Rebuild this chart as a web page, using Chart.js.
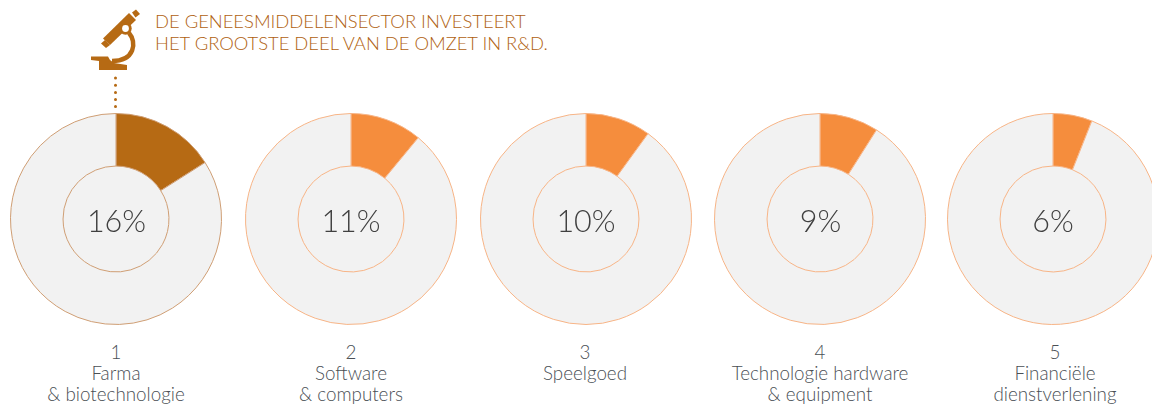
<!DOCTYPE html>
<html lang="nl">

<head>
    <meta charset="UTF-8">
    <title>R&amp;D per sector</title>
    <script src="https://cdn.jsdelivr.net/npm/chart.js"></script>
    <style>
        html, body {
            margin: 0;
            width: 1152px;
            height: 405px;
            overflow: hidden;
            background: #fff;
            font-family: Lato, "Open Sans", sans-serif;
        }

        .title {
            position: absolute;
            left: 155px;
            top: 10px;
            font-size: 18.4px;
            line-height: 22px;
            font-weight: 300;
            color: #b05f10;
            white-space: nowrap;
        }

        .donut {
            position: absolute;
            top: 104px;
            width: 230px;
            height: 230px;
        }

        .pct {
            position: absolute;
            top: 201px;
            width: 120px;
            text-align: center;
            font-size: 30.5px;
            line-height: 38px;
            font-weight: 300;
            color: #404040;
        }

        .label {
            position: absolute;
            top: 341px;
            width: 230px;
            text-align: center;
            font-size: 18.8px;
            line-height: 21px;
            font-weight: 300;
            color: #4a4f55;
        }

        svg {
            position: absolute;
            left: 0;
            top: 0;
        }
    </style>
</head>

<body>
    <svg width="160" height="110" fill="#b66a14">
        <polygon points="103,38.5 129,13 136,20 110,45" />
        <polygon points="132,12.5 136,9.5 140,14 135.5,17.5" />
        <polygon points="101,43.5 105,40 110,45 106,48" />
        <circle cx="125.5" cy="28.5" r="6.2" />
        <circle cx="125.5" cy="28.5" r="3.4" fill="#fff" />
        <path d="M129 33 C137 42 135 61 112 61" fill="none" stroke="#b66a14" stroke-width="4.5" />
        <polygon points="91,56.5 108,56.5 110,60 114,63 127,65 127,70 99,70 99,61 91,60" />
        <g>
            <circle cx="115.5" cy="78" r="1.5" />
            <circle cx="115.5" cy="85.3" r="1.5" />
            <circle cx="115.5" cy="92.6" r="1.5" />
            <circle cx="115.5" cy="99.4" r="1.5" />
            <circle cx="115.5" cy="106.5" r="1.5" />
        </g>
    </svg>
    <div class="title">DE GENEESMIDDELENSECTOR INVESTEERT<br>HET GROOTSTE DEEL VAN DE OMZET IN R&amp;D.</div>

    <script>
        const ranks = ['1', '2', '3', '4', '5'];
        const sectors = [
            ['Farma', '& biotechnologie'],
            ['Software', '& computers'],
            ['Speelgoed'],
            ['Technologie hardware', '& equipment'],
            ['Financiële', 'dienstverlening']
        ];
        const shares = [16, 11, 10, 9, 6];
        const sliceColors = ['#b66a14', '#f58d3d', '#f58d3d', '#f58d3d', '#f58d3d'];
        const lineColors = ['#cf9e74', '#f7b486', '#f7b486', '#f7b486', '#f7b486'];
        const centers = [116, 350.5, 585.5, 820, 1052.5];
        const labelCenters = [116, 351, 585, 820, 1055];

        // grey disc behind the hole of the ring
        const holeFill = {
            id: 'holeFill',
            beforeDatasetsDraw(chart) {
                const arc = chart.getDatasetMeta(0).data[0];
                const c = chart.ctx;
                c.save();
                c.fillStyle = '#f2f2f2';
                c.beginPath();
                c.arc(arc.x, arc.y, arc.innerRadius, 0, Math.PI * 2);
                c.fill();
                c.restore();
            }
        };

        shares.forEach(function (share, i) {
            const canvas = document.createElement('canvas');
            canvas.className = 'donut';
            canvas.width = 230;
            canvas.height = 230;
            canvas.style.left = (centers[i] - 115) + 'px';
            document.body.appendChild(canvas);

            new Chart(canvas, {
                type: 'doughnut',
                data: {
                    labels: ['Aandeel', 'Rest'],
                    datasets: [{
                        data: [share, 100 - share],
                        backgroundColor: [sliceColors[i], '#f2f2f2'],
                        borderColor: lineColors[i],
                        borderWidth: 1,
                        borderAlign: 'center'
                    }]
                },
                options: {
                    responsive: false,
                    animation: false,
                    radius: 105.5,
                    cutout: '50.2%',
                    layout: { padding: 0 },
                    plugins: {
                        legend: { display: false },
                        tooltip: { enabled: false }
                    }
                },
                plugins: [holeFill]
            });

            const pct = document.createElement('div');
            pct.className = 'pct';
            pct.textContent = share + '%';
            pct.style.left = (centers[i] - 60 + 0.5) + 'px';
            document.body.appendChild(pct);

            const label = document.createElement('div');
            label.className = 'label';
            label.style.left = (labelCenters[i] - 115) + 'px';
            label.innerHTML = [ranks[i]].concat(sectors[i]).map(function (line) {
                return line.replace('&', '&amp;');
            }).join('<br>');
            document.body.appendChild(label);
        });
    </script>
</body>

</html>
